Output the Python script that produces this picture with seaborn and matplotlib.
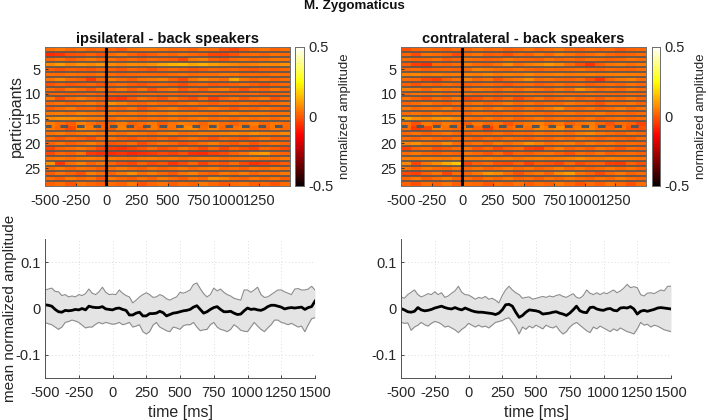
import numpy as np
import pandas as pd
import seaborn as sns
import matplotlib.pyplot as plt

plt.rcParams['font.family'] = ['Liberation Sans', 'DejaVu Sans']

# rough amplitude readings, 28 participants x 24 time bins
ipsi_rows = [
    [3, 5, 2, 4, 1, 3, 2, -1, 4, 5, 6, 4, 2, 3, 1, 4, 3, -2, -4, -1, 2, 4, 1, 3],
    [-9, -7, -2, -1, 1, -2, 3, 5, 1, -2, 0, 3, 1, 4, 2, 0, -4, -5, -2, 2, 3, 1, 4, 2],
    [2, 4, 0, 3, 5, 2, 4, 1, 3, 0, 3, 1, 0, -3, 5, 7, 1, -1, 3, 4, 2, 3, 5, 4],
    [8, 12, 7, 10, 8, 11, 9, 7, 9, 8, 10, 14, 17, 18, 14, 16, 13, 10, 8, 6, 7, 9, 8, 10],
    [0, -2, 1, 0, -1, 1, 1, -1, 2, 0, -2, 1, 3, 1, -1, 0, 2, 1, 2, 0, -1, 1, 0, 2],
    [3, 2, 4, 3, 2, 4, 3, 1, 2, 3, 2, 1, 3, 4, 2, 3, 3, 5, 4, 2, 3, 2, 4, 3],
    [4, 8, 3, 1, -6, 2, 6, 3, 0, 4, 5, 7, 1, -3, 4, 8, 5, 3, 15, 5, 2, 4, 1, 3],
    [-2, 1, -1, 0, 2, -1, 1, 3, 0, -2, 1, 2, 0, -3, 1, 2, -1, 0, 1, 3, 0, -2, 1, 2],
    [3, 0, 5, 3, -1, 4, 2, 5, 0, 4, -2, 3, 5, -1, 3, 0, 4, 6, 1, -2, 3, 1, 5, 2],
    [1, 2, 0, 1, 3, 0, 2, 1, 0, 2, 3, 1, 2, 0, 1, 3, 2, 0, 1, 2, 3, 0, 1, 2],
    [5, -3, 3, 6, 2, 0, -5, -7, -1, 4, 1, -2, 4, 0, -3, 3, -5, 1, 4, -1, 3, 5, -2, 2],
    [2, 4, 1, 3, 5, 2, 10, 7, 3, 1, 4, 2, 0, 3, 5, 2, 0, 3, 1, 4, 2, 0, 3, 4],
    [0, 3, 5, 1, 2, -1, 3, 1, 4, -2, 2, 4, 6, 1, 0, 3, 5, 2, -1, 3, 1, 4, 2, 0],
    [5, 6, 4, 7, 5, 4, 6, 4, 5, 3, 6, 4, 7, 5, 6, 4, 3, 5, 7, 4, 6, 5, 3, 4],
    [8, 10, 9, 8, 6, 5, 3, 5, 4, 2, 4, 3, 5, 2, 4, 6, 3, 4, 2, 5, 3, 4, 2, 5],
    [6, 3, 0, 7, 4, 1, 2, 6, 1, 3, 5, 0, 4, 7, 5, 2, 6, 3, 1, 4, 6, 2, 5, 3],
    [5, 2, -3, 8, 6, 2, 0, 7, 3, 1, 6, 2, 4, 8, 9, 3, 7, 2, 4, 6, 3, 1, 5, 2],
    [4, 6, 3, 5, 7, 4, 5, 3, 6, 4, 2, 5, 7, 3, 4, 6, 5, 7, 8, 6, 9, 7, 5, 8],
    [2, -1, 3, 1, -2, 3, 4, 1, -1, 2, 0, 3, -1, 2, 4, 1, -2, 3, 1, -1, 2, 4, 0, 1],
    [1, 4, 0, 3, 6, 2, -1, 0, 3, -3, 1, 4, 2, -2, 0, 3, 6, 1, -1, 3, -2, 2, 4, 1],
    [-4, 1, 3, 5, 2, -3, -5, -7, -4, -1, 3, -2, 0, 4, 1, -3, 2, -4, 1, -2, -5, 2, 0, -3],
    [-3, 2, 0, 4, -6, -8, -9, -7, -10, -8, -6, -3, -5, -2, -8, -9, -5, -3, 1, 4, 10, 12, 3, 1],
    [4, 5, 3, 5, 6, 4, 5, 4, 3, 5, 6, 4, 5, 3, 4, 6, 5, 3, 4, 5, 6, 4, 3, 5],
    [10, -7, 3, 7, 1, 4, 2, -2, -4, 1, -3, -1, -7, -3, 2, -5, 0, -2, 3, -3, -8, -6, -2, 0],
    [2, 5, 1, 4, 3, 0, 3, 5, 2, 0, 4, 1, 3, 5, 2, 4, 6, 1, 3, 0, 4, 2, 5, 3],
    [0, 4, 1, -2, 6, 3, 1, 5, 9, 3, 6, 2, -1, 4, 7, 2, 0, 5, 3, 6, 1, 4, 2, 5],
    [3, 0, 5, 2, 4, -1, 5, 2, 0, 4, 1, 6, 3, 0, 4, 2, 9, 7, 3, 1, 5, 2, 4, 0],
    [1, 3, -1, 4, 2, 0, 3, 1, 5, -2, 2, 4, 0, 3, 1, 5, 2, -1, 3, 4, 0, 2, -1, 3],
]

contra_rows = [
    [-2, 1, 3, 2, 0, 3, 1, 4, 2, 3, 0, 2, 4, 1, 3, 5, 2, 0, 3, 1, 2, -1, 1, 2],
    [2, -3, 4, 3, 1, -3, 2, 4, 0, 1, -2, 3, 1, 5, 2, 7, 4, 1, 3, 5, 2, 0, 1, 3],
    [3, 1, 2, 4, 0, 2, 4, 3, 1, 2, 5, 3, 2, 1, 4, 2, 3, 1, 4, 3, 1, 2, 4, 3],
    [0, -5, -8, 2, 1, 3, 5, 2, 1, 4, 9, 3, 6, 8, 11, 8, 3, -2, -8, 0, 4, 6, 3, 5],
    [2, 3, 0, 1, 2, 1, 2, 7, 5, 3, 2, 4, 2, 1, 3, 2, 3, 4, 2, 1, 3, 2, 1, 3],
    [7, 8, 6, 7, 5, 6, 7, 6, 8, 5, 7, 6, 8, 5, 6, 7, 5, 6, 7, 5, 6, 7, 6, 5],
    [3, 2, -3, -5, 1, 4, 7, 2, 4, -1, 3, 5, 9, 3, 4, 2, 1, 3, -2, -7, 2, 5, 7, 3],
    [1, -2, 2, 0, 3, 1, 0, 2, 3, 1, -1, 2, 3, 0, 2, 4, 1, 3, 0, 2, 3, 1, 4, 2],
    [7, 5, 2, 6, 4, 5, 3, 6, 4, 2, 5, 3, 6, 4, 2, 5, 3, 10, 5, 3, 4, 2, 5, 3],
    [2, 4, 3, 5, 2, 3, 4, 2, 3, 1, 3, 2, 4, 3, 2, 4, 3, 2, 4, 3, 2, 1, 3, 2],
    [4, 1, -2, 3, 0, 5, -4, -2, 2, -1, 3, -3, 1, 4, 0, 2, 4, 1, 3, 0, 4, 2, 5, 1],
    [1, 3, 5, 2, 0, 3, 2, 4, 1, 3, 6, 2, 4, 1, 3, 2, 5, 3, 1, -2, 3, 2, 4, 1],
    [5, 2, 4, 3, 6, 2, 3, 5, 2, 6, 3, 1, 4, 2, 5, 9, 3, 2, 4, 1, 3, 6, 2, 4],
    [3, 4, 2, 5, 3, 4, 2, 4, 3, 1, 3, 2, 4, 3, 1, 3, 4, 2, 3, 5, 2, 3, 1, 3],
    [14, 9, 7, 10, 11, 8, 4, 3, 5, 2, 4, 1, 3, 5, 2, 4, 3, 2, 4, 1, 3, 4, 2, 3],
    [4, -2, 5, 2, 6, 3, 0, 5, 2, 4, -1, 3, 5, 7, 3, 5, 1, 4, 6, 2, -1, 3, 1, -4],
    [3, -6, -3, 7, 4, 2, 5, 1, -5, 3, 2, 5, 3, 8, 6, 9, 4, 6, 7, 3, 1, 4, -1, -2],
    [2, 4, 1, 3, 5, 2, 1, 3, 2, 4, 1, 3, 2, 5, 3, 4, 2, 6, 8, 5, 3, 1, 4, 2],
    [3, 1, 4, 2, 0, 3, 2, 0, 3, 1, 4, 2, 0, 3, 1, 4, 2, 5, 3, 1, 3, 2, 0, 3],
    [7, 10, 5, 4, 9, 3, 2, 4, 1, 6, 3, 5, 10, 7, 3, 4, 6, 2, 5, 3, 4, 1, 3, 2],
    [-5, 1, 3, -2, 0, 3, 4, -1, 2, -3, 1, 3, -4, -6, 2, 6, 1, 3, 0, 4, 2, -1, 3, 1],
    [3, 5, 2, 0, 3, 1, 4, 2, -1, 3, -3, 2, 0, 3, 4, 1, -2, 3, 1, 4, 0, 2, 3, 1],
    [6, 5, 7, 6, 5, 7, 6, 5, 7, 5, 6, 4, 6, 7, 5, 6, 7, 9, 6, 5, 7, 6, 5, 4],
    [8, -4, 5, 9, 15, 20, -4, 1, 3, -2, -3, 1, -5, 0, -1, -4, 2, -3, 0, 1, -5, -6, 1, -2],
    [4, 1, 5, 3, 2, 5, 2, 4, 1, 3, 5, 2, 4, 1, 3, 6, 2, 4, 1, 3, 5, 2, 4, 1],
    [-3, -5, 1, 4, -4, 3, 1, 5, 11, 9, 3, -2, 3, 5, 1, 8, 12, 4, 1, -3, 2, 5, 1, 3],
    [2, 5, 0, 3, 6, 1, 3, 0, 4, 2, 5, 1, 3, 0, 4, 2, 5, 3, 1, 4, 2, 6, 3, 1],
    [1, -2, 3, 1, 4, 0, 3, 2, -1, 3, 1, 4, 0, 3, 1, 5, 2, -1, 3, 0, 4, 2, -2, 3],
]

time_ticks = [-500, -250, 0, 250, 500, 750, 1000, 1250]
time_ticks_long = [-500, -250, 0, 250, 500, 750, 1000, 1250, 1500]
participant_ticks = [5, 10, 15, 20, 25]
amp_ticks = [-0.1, 0, 0.1]

# one value every 25 ms, -500 to 1500
ipsi_mean = [
    .008, .007, .005, -.002, -.007, -.008, -.004, -.005, -.004, -.002,
    -.003, 0, -.003, .005, .003, .002, .002, .004, -.001, -.002,
    -.003, 0, .001, -.002, -.004, -.014, -.014, -.010, -.008, -.016,
    -.016, -.011, -.011, -.010, -.006, -.009, -.016, -.013, -.010, -.009,
    -.007, -.005, -.004, -.002, .003, .006, -.002, -.010, -.007, -.002,
    .002, .004, -.002, -.007, -.007, -.006, -.010, -.013, -.012, -.005,
    .001, -.002, -.001, -.003, -.004, -.001, .004, .007, .007, .005,
    .003, -.001, .001, .002, .001, .002, .003, -.002, .002, .004,
    .016,
]
ipsi_upper = [
    .040, .042, .044, .037, .036, .028, .030, .025, .027, .025,
    .030, .028, .032, .042, .033, .030, .036, .046, .035, .030,
    .031, .030, .040, .033, .028, .025, .012, .018, .025, .030,
    .034, .030, .024, .025, .030, .027, .021, .018, .022, .025,
    .035, .033, .036, .040, .052, .055, .043, .032, .025, .030,
    .044, .038, .042, .035, .030, .027, .022, .020, .018, .040,
    .040, .035, .040, .046, .030, .024, .025, .030, .035, .040,
    .040, .036, .033, .030, .042, .043, .040, .040, .042, .048,
    .040,
]
ipsi_lower = [
    -.030, -.033, -.035, -.040, -.045, -.040, -.030, -.028, -.025, -.027,
    -.030, -.036, -.042, -.040, -.040, -.034, -.030, -.033, -.030, -.032,
    -.034, -.033, -.030, -.035, -.033, -.030, -.040, -.038, -.035, -.050,
    -.055, -.050, -.036, -.030, -.040, -.044, -.048, -.050, -.040, -.042,
    -.045, -.037, -.035, -.035, -.030, -.040, -.048, -.046, -.045, -.035,
    -.030, -.040, -.045, -.047, -.050, -.045, -.035, -.040, -.047, -.049,
    -.050, -.040, -.030, -.038, -.045, -.050, -.042, -.035, -.025, -.025,
    -.030, -.032, -.035, -.032, -.036, -.040, -.038, -.050, -.035, -.022,
    -.020,
]
contra_mean = [
    0, -.003, -.007, -.008, -.006, .002, -.003, -.005, -.004, -.002,
    .001, .003, .005, .002, 0, -.001, .002, -.001, -.003, .001,
    -.002, -.005, -.007, -.008, -.008, -.009, -.010, -.011, -.013, -.010,
    -.003, .008, .009, .005, -.008, -.019, -.015, -.008, -.003, -.004,
    -.005, -.007, -.012, -.011, -.010, -.008, -.007, -.010, -.012, -.015,
    -.010, -.003, .005, -.005, -.008, -.009, .002, .003, -.001, -.003,
    -.004, -.001, 0, -.004, -.005, .001, .002, .001, .004, -.001,
    -.012, -.006, -.004, -.006, -.004, -.002, .001, .002, .001, 0,
    -.001,
]
contra_upper = [
    .025, .022, .030, .035, .040, .030, .025, .028, .032, .030,
    .036, .030, .034, .024, .027, .033, .038, .048, .035, .030,
    .029, .025, .020, .024, .022, .026, .020, .022, .018, .012,
    .028, .040, .048, .040, .034, .030, .022, .024, .025, .020,
    .022, .024, .026, .024, .027, .025, .028, .030, .026, .024,
    .028, .032, .024, .022, .028, .040, .033, .030, .034, .030,
    .034, .032, .036, .040, .034, .038, .044, .052, .045, .047,
    .045, .030, .027, .033, .034, .032, .036, .040, .038, .048,
    .048,
]
contra_lower = [
    -.030, -.032, -.031, -.047, -.040, -.036, -.030, -.035, -.038, -.032,
    -.028, -.030, -.034, -.040, -.038, -.042, -.046, -.052, -.045, -.040,
    -.032, -.036, -.040, -.036, -.040, -.038, -.042, -.036, -.030, -.028,
    -.026, -.022, -.020, -.030, -.040, -.055, -.040, -.045, -.038, -.042,
    -.036, -.040, -.044, -.036, -.040, -.042, -.038, -.048, -.055, -.050,
    -.040, -.034, -.030, -.036, -.042, -.048, -.052, -.040, -.044, -.038,
    -.042, -.046, -.050, -.044, -.048, -.042, -.046, -.050, -.052, -.055,
    -.044, -.030, -.036, -.034, -.040, -.036, -.038, -.042, -.046, -.048,
    -.050,
]

time = np.arange(-500, 1501, 25)
text_col = '#262626'


def px_axes(fig, x0, y0, x1, y1):
    # pixel box of the 708x420 picture, y from the top
    return fig.add_axes([x0 / 708, 1 - y1 / 420, (x1 - x0) / 708, (y1 - y0) / 420])


def draw_heat(fig, rows, box, cbar_box, title, left_label):
    ax = px_axes(fig, *box)
    cax = px_axes(fig, *cbar_box)
    # readings were a bit strong next to the reference, so 125 and not 100
    table = pd.DataFrame(rows) / 125
    sns.heatmap(table, ax=ax, cbar_ax=cax, cmap='hot', vmin=-0.5, vmax=0.5,
                xticklabels=False, yticklabels=False)
    n_rows, n_cols = table.shape
    # smooth along time only, the source figure is blurred that way
    ax.imshow(np.repeat(table.values, 8, axis=0), extent=(0, n_cols, n_rows, 0), aspect='auto',
              cmap='hot', vmin=-0.5, vmax=0.5, interpolation='bicubic')
    ax.set_xlim(0, n_cols)
    ax.set_ylim(n_rows, 0)
    # seaborn puts cells on 0..n, so ticks go through the same scale
    to_col = lambda t: (t + 500) / 2000 * n_cols
    ax.set_xticks([to_col(t) for t in time_ticks])
    ax.set_xticklabels([str(t) for t in time_ticks], rotation=0)
    ax.set_yticks([p - 0.5 for p in participant_ticks])
    ax.set_yticklabels([str(p) for p in participant_ticks], rotation=0)
    ax.tick_params(direction='in', length=2, width=0.6, color=text_col, labelcolor=text_col, labelsize=10.5, pad=3)
    ax.tick_params(axis='x', pad=6)
    for r in range(1, n_rows):
        if r == 16:
            ax.hlines(r, 0, n_cols, color='#555555', lw=2.2, linestyles=(0.5, (2.5, 2.9)))
        else:
            ax.hlines(r, 0, n_cols, color='#555555', lw=1.2)
    ax.axvline(to_col(0), color='black', lw=2.2)
    for s in ax.spines.values():
        s.set_visible(True)
        s.set_color('#707070')
        s.set_linewidth(0.7)
    ax.set_title(title, fontsize=10.5, fontweight='bold', color='#111111', pad=3)
    if left_label:
        ax.set_ylabel('participants', fontsize=11.5, color=text_col)
        ax.yaxis.set_label_coords(-0.086, 0.5)
    cax.set_yticks([-0.5, 0, 0.5])
    cax.set_yticklabels(['-0.5', '0', '0.5'])
    cax.tick_params(length=0, labelsize=10.5, labelcolor=text_col, pad=3)
    cax.set_ylabel('normalized amplitude', fontsize=9.5, color=text_col, labelpad=4)
    for s in cax.spines.values():
        s.set_visible(True)
        s.set_color('#707070')
        s.set_linewidth(0.7)


def draw_mean(fig, mean, upper, lower, box, left_label):
    ax = px_axes(fig, *box)
    ax.fill_between(time, lower, upper, color='#e4e4e4', lw=0)
    sns.lineplot(x=time, y=upper, ax=ax, color='#8c8c8c', lw=0.8, errorbar=None)
    sns.lineplot(x=time, y=lower, ax=ax, color='#8c8c8c', lw=0.8, errorbar=None)
    sns.lineplot(x=time, y=mean, ax=ax, color='black', lw=2.0, errorbar=None)
    ax.set_xlim(-500, 1500)
    ax.set_ylim(-0.15, 0.15)
    ax.set_xticks(time_ticks_long)
    ax.set_xticklabels([str(t) for t in time_ticks_long])
    ax.set_yticks(amp_ticks)
    ax.set_yticklabels(['-0.1', '0', '0.1'])
    ax.grid(True, color='#d0d0d0', lw=0.6, linestyle=(0, (1, 3)))
    ax.set_axisbelow(True)
    ax.tick_params(direction='in', length=2, width=0.6, color=text_col, labelcolor=text_col, labelsize=10.5, pad=3)
    ax.tick_params(axis='x', pad=6)
    sns.despine(ax=ax)
    ax.spines['left'].set_color('#505050')
    ax.spines['bottom'].set_color('#505050')
    ax.spines['left'].set_linewidth(0.7)
    ax.spines['bottom'].set_linewidth(0.7)
    ax.set_xlabel('time [ms]', fontsize=11.5, color=text_col, labelpad=3)
    if left_label:
        ax.set_ylabel('mean normalized amplitude', fontsize=11, color=text_col)
        ax.yaxis.set_label_coords(-0.104, 0.5)


fig = plt.figure(figsize=(7.08, 4.2), dpi=100)
draw_heat(fig, ipsi_rows, (45, 47, 290, 185.5), (295, 47, 304, 185.5), 'ipsilateral - back speakers', True)
draw_heat(fig, contra_rows, (401, 47, 646, 185.5), (652, 47, 660, 185.5), 'contralateral - back speakers', False)
draw_mean(fig, ipsi_mean, ipsi_upper, ipsi_lower, (45, 239, 315, 378), True)
draw_mean(fig, contra_mean, contra_upper, contra_lower, (401, 239, 671, 378), False)
fig.text(354 / 708, 1 - 6 / 420, 'M. Zygomaticus', ha='center', va='center', fontsize=9.6, fontweight='bold', color='#111111')
fig.savefig('out.png', dpi=100)
